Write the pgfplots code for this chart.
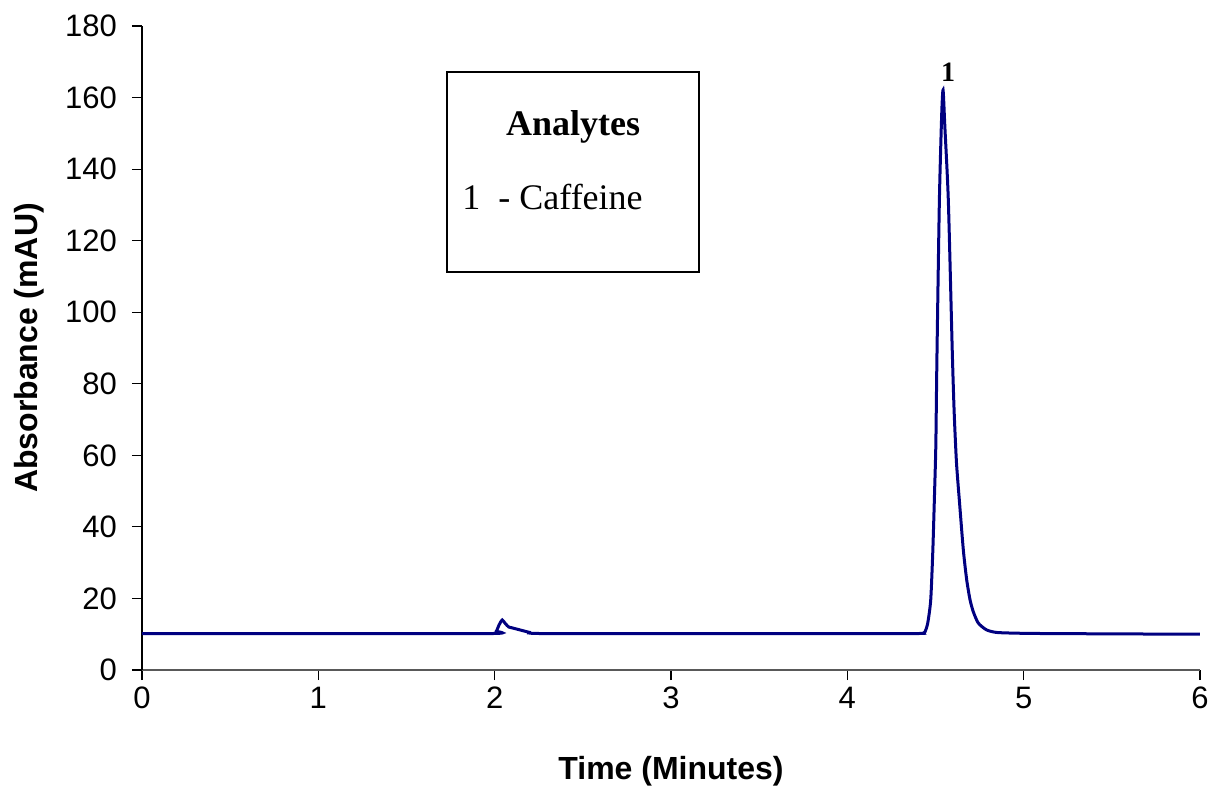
\documentclass[border=0pt]{standalone}
\usepackage{fontspec}
\setmainfont{Liberation Sans}
\newfontfamily\timesfont{Liberation Serif}
\usepackage{pgfplots}
\pgfplotsset{compat=1.18}

\definecolor{trace}{RGB}{0,0,128}

\begin{document}
\begin{tikzpicture}
\begin{axis}[
    at={(0,0)}, anchor=south west,
    scale only axis,
    width=529pt, height=322pt,
    xmin=0, xmax=6, ymin=0, ymax=180,
    xtick={0,1,...,6},
    ytick={0,20,...,180},
    axis x line=bottom, axis y line=left,
    x axis line style={-, gray!70!black, line width=0.8pt},
    y axis line style={-, black, line width=0.7pt},
    tick align=outside,
    major tick length=5pt,
    tick style={black, line width=0.6pt},
    /pgf/number format/assume math mode=true,
    tick label style={font=\fontsize{15.5}{18}\selectfont},
    yticklabel style={xshift=-4pt},
    xlabel={\textbf{Time (Minutes)}},
    ylabel={\textbf{Absorbance (mAU)}},
    label style={font=\fontsize{16}{19}\selectfont},
    xlabel style={yshift=-17pt},
    ylabel style={yshift=3.5pt},
    clip=false,
]
\addplot[trace, line width=1.5pt, smooth, tension=0.4] coordinates {
    (0.00,10.2) (1.00,10.2) (1.99,10.2) (2.01,10.9) (2.025,12.6) (2.043,14.0)
    (2.06,13.0) (2.08,12.0) (2.097,11.8) (2.144,11.2) (2.20,10.5) (2.257,10.2)
    (3.00,10.2) (4.00,10.2) (4.40,10.2) (4.43,10.3) (4.44,10.6) (4.456,13.1)
    (4.473,19.6) (4.485,33.5) (4.495,50) (4.502,63) (4.508,86.6) (4.522,131)
    (4.535,155) (4.543,162.1) (4.553,152) (4.573,131) (4.595,89.4) (4.606,72)
    (4.619,58) (4.636,47) (4.658,33.5) (4.677,25.2) (4.696,19.6) (4.715,16.2)
    (4.743,13.1) (4.79,11.2) (4.846,10.5) (4.95,10.3) (5.10,10.2) (5.50,10.1)
    (6.00,10.0)
};
\draw[black, line width=0.75pt] (axis cs:1.73,167.1) rectangle (axis cs:3.16,111.2);
\node[anchor=base, font=\timesfont\bfseries\fontsize{18}{21}\selectfont, inner sep=0pt]
    at (axis cs:2.445,149.5) {Analytes};
\node[anchor=base west, font=\timesfont\fontsize{18}{21}\selectfont, inner sep=0pt]
    at (axis cs:1.815,128.6) {1\ \ - Caffeine};
\node[anchor=base, font=\timesfont\bfseries\fontsize{14}{16}\selectfont, inner sep=0pt]
    at (axis cs:4.571,164.6) {1};
\end{axis}
\pgfresetboundingbox
\path[use as bounding box] (-71pt,-59pt) rectangle (534.5pt,335pt);
\end{tikzpicture}
\end{document}
